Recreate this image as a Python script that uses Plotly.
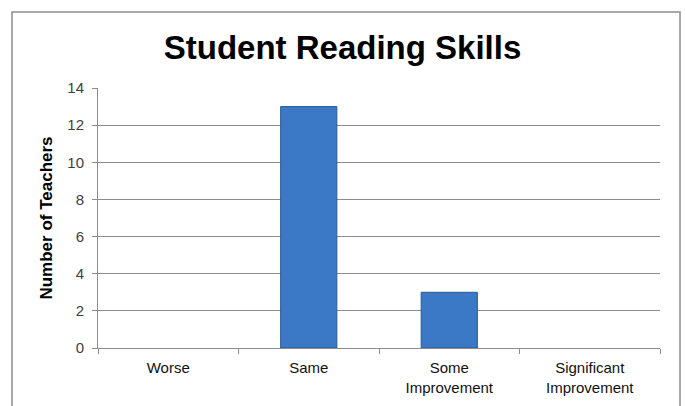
import plotly.graph_objects as go

categories = ["Worse", "Same", "Some<br>Improvement", "Significant<br>Improvement"]
teachers = [0, 13, 3, 0]
y_ticks = [0, 2, 4, 6, 8, 10, 12, 14]

fig = go.Figure()
fig.add_trace(go.Bar(
    x=categories, y=teachers, width=0.4,
    marker=dict(color="#3b78c6",
                line=dict(color="#2a5a96", width=[1 if v > 0 else 0 for v in teachers])),
))

L, R, T, B = 98, 25, 88, 58
W, H = 685, 406
pw, ph = W - L - R, H - T - B

fig.update_layout(
    width=W, height=H,
    margin=dict(l=L, r=R, t=T, b=B, autoexpand=False),
    paper_bgcolor="white", plot_bgcolor="white",
    showlegend=False,
    title=dict(text="<b>Student Reading Skills</b>", x=0.5, xanchor="center",
               y=1 - 47 / H, yanchor="middle",
               font=dict(family="Liberation Sans, Arial", size=33, color="black")),
    font=dict(family="Liberation Sans, Arial", size=15, color="#222"),
)
fig.update_xaxes(
    automargin=False,
    showline=True, linecolor="#8c8c8c", linewidth=1,
    ticks="outside", tickson="boundaries", ticklen=5, tickcolor="#8c8c8c",
    tickfont=dict(family="Liberation Sans, Arial", size=15, color="#111"),
    ticklabelstandoff=6,
    showgrid=False,
)
fig.update_yaxes(
    automargin=False,
    range=[0, 14], tickvals=y_ticks,
    showline=True, linecolor="#8c8c8c", linewidth=1,
    ticks="outside", ticklen=5, tickcolor="#8c8c8c",
    showgrid=True, gridcolor="#8c8c8c", gridwidth=1,
    zeroline=False,
    ticklabelstandoff=5,
    tickfont=dict(family="Liberation Sans, Arial", size=15, color="#404040"),
    title=dict(text="<b>Number of Teachers</b>", standoff=10,
               font=dict(family="Liberation Sans, Arial", size=17, color="black")),
)
fig.add_shape(type="rect", xref="paper", yref="paper",
              x0=(12 - L) / pw, x1=(680 - L) / pw,
              y0=-(H + 5 - (H - B)) / ph, y1=((H - B) - 12) / ph,
              line=dict(color="#8c8c8c", width=1.5), fillcolor="rgba(0,0,0,0)",
              layer="below")

fig.write_html("out.html", config={"displayModeBar": False},
               post_script="document.body.style.margin='0';document.body.style.overflow='hidden';")
